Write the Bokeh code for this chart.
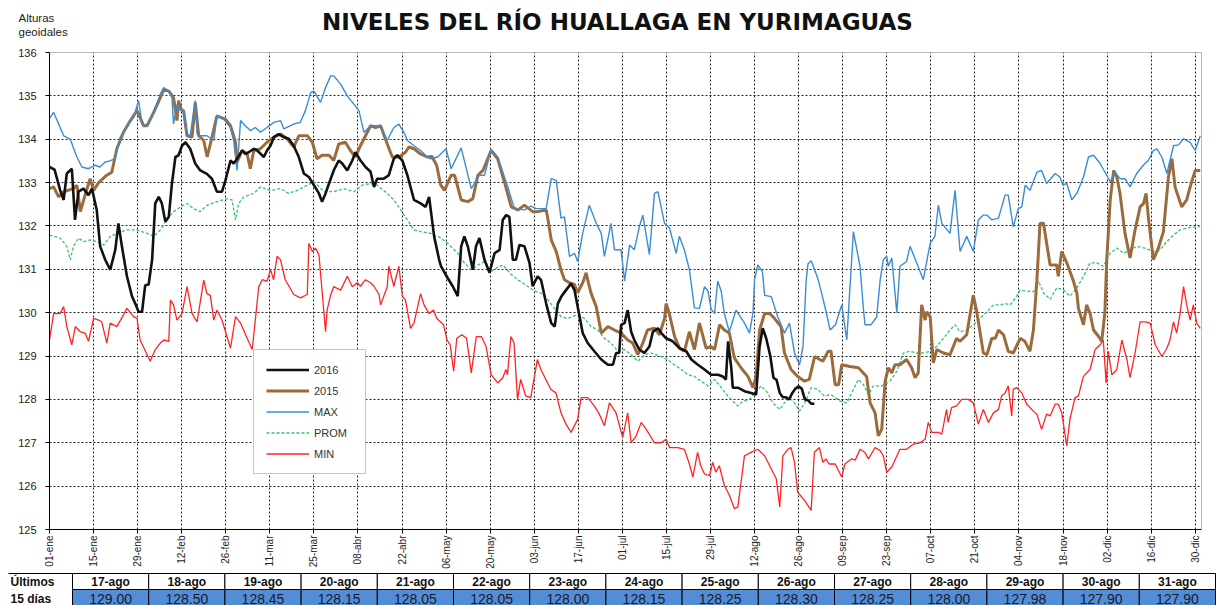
import math
from bokeh.plotting import figure
from bokeh.models import Range1d, FixedTicker, Legend, LegendItem
from bokeh.embed import file_html
from bokeh.resources import INLINE
from bokeh.core.properties import value

# ---------------- data (day of year, 01-ene = 0) ----------------
tick_days = [0, 14, 28, 42, 56, 70, 84, 98, 112, 126, 140, 154, 168, 182, 196,
             210, 224, 238, 252, 266, 280, 294, 308, 322, 336, 350, 364]
tick_labels = ["01-ene", "15-ene", "29-ene", "12-feb", "26-feb", "11-mar", "25-mar",
               "08-abr", "22-abr", "06-may", "20-may", "03-jun", "17-jun", "01-jul",
               "15-jul", "29-jul", "12-ago", "26-ago", "09-sep", "23-sep", "07-oct",
               "21-oct", "04-nov", "18-nov", "02-dic", "16-dic", "30-dic"]
y_ticks = [125, 126, 127, 128, 129, 130, 131, 132, 133, 134, 135, 136]

y2016_days = [0, 1.6, 3.4, 4.5, 5.5, 7.1, 8.1, 9.2, 10.8, 12.4, 13.5, 15, 16.1, 17.7, 19.3, 20.9, 21.9, 23, 24.6, 26.2,
              27.3, 28.3, 29.4, 30.4, 31.5, 32.6, 33.6, 34.7, 35.7, 36.8, 37.9, 38.9, 40, 41, 42.1, 43.2, 44.7, 46.3,
              47.9, 50, 51.6, 53.2, 54.8, 55.9, 57.5, 58.5, 59.6, 61.2, 62.3, 63.3, 64.9, 66, 68.1, 69.1, 70.2, 71.3,
              72.8, 74.4, 76, 77.6, 79.2, 80.8, 82.4, 84, 85.6, 86.6, 87.7, 88.8, 90.3, 91.9, 93, 94.6, 96.2, 97.2,
              98.8, 100.4, 102, 103.1, 104.1, 106.2, 107.8, 109.4, 110.5, 112.1, 113.7, 115.8, 117.9, 119.5, 120.6,
              122.2, 123.8, 124.4, 126.5, 128.1, 129.7, 130.8, 131.8, 132.9, 134.5, 135.5, 136.6, 138.2, 139.8, 141.4,
              143, 144, 145.1, 146.1, 147.2, 148.2, 149.3, 150.9, 152.5, 153.5, 155.1, 156.2, 157.8, 159.4, 160.5,
              161.5, 162.6, 164.1, 165.7, 166.8, 167.8, 169.4, 171, 173.1, 175.3, 177.4, 179, 180, 181, 181.6, 182.7,
              183.7, 184.8, 185.8, 187.4, 189, 190.6, 191.7, 193.3, 194.4, 195.9, 198, 200.2, 202.3, 203.9, 206,
              208.1, 210.2, 212.4, 213.9, 214.9, 215.6, 216.6, 217.1, 218.7, 220.8, 222.9, 224.5, 225.6, 226.6, 227.7,
              229, 230, 231, 232, 233, 234, 235, 236, 237, 238, 239, 240, 241, 242, 243]
y2016_vals = [133.36, 133.3, 132.82, 132.6, 133.21, 133.32, 132.14, 132.79, 132.86, 132.71, 132.86, 132.37, 131.53,
              131.22, 130.99, 131.45, 132.06, 131.53, 130.84, 130.38, 130.2, 130.02, 130.02, 130.63, 130.65, 131.22,
              132.52, 132.67, 132.52, 132.1, 132.21, 132.98, 133.59, 133.63, 133.85, 133.93, 133.78, 133.44, 133.28,
              133.2, 133.09, 132.79, 132.79, 133.05, 133.51, 133.44, 133.55, 133.74, 133.66, 133.7, 133.78, 133.74,
              133.59, 133.74, 133.85, 134.05, 134.12, 134.05, 134.01, 133.85, 133.59, 133.21, 133.13, 132.94, 132.75,
              132.56, 132.75, 132.98, 133.28, 133.51, 133.44, 133.28, 133.51, 133.7, 133.51, 133.36, 133.25, 132.9,
              133.09, 133.09, 133.17, 133.55, 133.63, 133.51, 133.17, 132.6, 132.52, 132.44, 132.67, 131.76, 131.22,
              131.07, 130.8, 130.61, 130.38, 131.53, 131.76, 131.53, 130.99, 131.53, 131.72, 131.22, 130.92, 131.37,
              131.45, 132.14, 132.25, 132.21, 131.22, 131.22, 131.56, 131.53, 131.15, 130.61, 130.84, 130.75, 130.21,
              129.76, 129.68, 130.21, 130.37, 130.52, 130.67, 130.52, 130.14, 129.53, 129.3, 129.11, 128.92, 128.8,
              128.8, 129.07, 129.07, 129.72, 129.76, 130.06, 129.56, 129.37, 129.15, 129.07, 129.22, 129.56, 129.64,
              129.53, 129.41, 129.34, 129.18, 129.11, 128.92, 128.8, 128.69, 128.57, 128.57, 128.53, 128.46, 129.34,
              128.73, 128.27, 128.27, 128.19, 128.15, 128.11, 129.22, 129.64, 129.41,
              129.00, 128.50, 128.45, 128.15, 128.05, 128.05, 128.00, 128.15, 128.25, 128.30, 128.25, 128.00,
              127.98, 127.90, 127.90]

y2015_days = [0, 1.3, 2.9, 4.5, 7.6, 8.7, 9.8, 11.3, 12.9, 14, 15.6, 18.2, 19.8, 21.4, 23.5, 25.7, 27.8, 28.8, 29.9, 31,
              33.1, 35.2, 36.3, 37.9, 39.4, 40.5, 41, 42, 42.6, 43.7, 45.3, 46.3, 47.4, 49, 50.1, 51.1, 53.2, 55.9,
              57.5, 59.1, 59.6, 61.2, 62.8, 63.8, 64.9, 67, 69.1, 71.3, 73.4, 75.5, 77.6, 79.2, 81.9, 83.5, 85, 86.6,
              88.8, 90.3, 91.9, 94, 95.6, 97.2, 98.8, 100.4, 102, 103.6, 105.2, 107.3, 108.9, 111, 113.1, 114.2, 115.8,
              117.9, 120, 121.5, 123, 124.3, 125.5, 127.6, 128.7, 130.8, 132.9, 134.5, 136.1, 137.7, 140.3, 142.4,
              144.5, 146.7, 148.8, 150.9, 153.5, 155.1, 157.8, 158.3, 159.4, 161, 162.5, 163.6, 165.2, 166.8, 167.8,
              169.4, 170.5, 171, 172.1, 173.7, 175.3, 177.4, 179.5, 181.6, 183.7, 185.3, 186.9, 188.5, 190, 192.2,
              193.8, 195.4, 195.9, 196.9, 198.6, 200.2, 201.7, 203.3, 204.9, 206.5, 207.5, 208.6, 210.2, 211.3, 212.9,
              214.4, 216, 217.6, 219.7, 221.9, 223.5, 224.5, 225.6, 227.2, 228.8, 230.3, 232.4, 233.5, 235.6, 237.7,
              239.9, 241.4, 243.1, 245.7, 247.4, 248.3, 249.6, 250.7, 251.7, 254.3, 257, 259.6, 260.7, 262.3, 263.3,
              264.4, 265.5, 266.5, 267.6, 268.6, 270.2, 272.3, 273.9, 275, 276, 277.1, 278.2, 278.7, 279.8, 280.8,
              281.9, 284, 286.1, 288.2, 289.3, 291.4, 293.5, 294.5, 296.7, 297.8, 299.4, 300.5, 301.5, 303.1, 304.6,
              306.2, 308.4, 309.9, 311.5, 312.6, 313.7, 314.7, 315.8, 316.8, 317.9, 320, 320.5, 321.6, 323.2, 325.3,
              326.4, 326.9, 328.5, 329.5, 330.6, 331.7, 333.3, 334.3, 335.3, 335.9, 337, 338.1, 339.1, 340.1, 341.7,
              343.3, 344.9, 346.5, 347.6, 348.4, 349.1, 350.7, 352.3, 353.9, 355.5, 356.6, 357.6, 359.7, 361.3, 362.4,
              364, 365.6]
y2015_vals = [132.86, 132.9, 132.67, 132.79, 132.86, 132.94, 132.33, 132.71, 133.09, 132.82, 133.0, 133.17, 133.24,
              133.78, 134.16, 134.43, 134.66, 134.5, 134.31, 134.31, 134.62, 134.96, 135.15, 135.11, 134.96, 134.43,
              134.89, 134.66, 134.66, 134.08, 134.05, 134.85, 134.08, 133.97, 133.59, 133.89, 134.54, 134.46, 134.31,
              133.93, 133.47, 133.74, 133.66, 133.32, 133.74, 133.78, 133.93, 134.05, 134.12, 134.01, 133.82, 134.08,
              134.08, 133.93, 133.55, 133.63, 133.63, 133.51, 133.89, 133.93, 133.74, 133.59, 133.85, 134.08, 134.31,
              134.27, 134.31, 133.89, 133.59, 133.59, 133.7, 133.82, 133.78, 133.66, 133.59, 133.6, 133.4, 132.94,
              132.82, 133.17, 133.17, 132.6, 132.56, 132.63, 133.17, 133.28, 133.74, 133.55, 133.02, 132.44, 132.37,
              132.48, 132.33, 132.33, 132.37, 132.18, 131.68, 131.41, 130.99, 130.76, 130.69, 130.65, 130.46, 130.69,
              130.92, 130.75, 130.44, 130.14, 129.53, 129.68, 129.6, 129.53, 129.37, 129.3, 129.03, 129.3, 129.6,
              129.64, 129.49, 129.87, 130.21, 129.98, 129.45, 129.18, 129.11, 129.56, 129.15, 129.76, 129.49, 129.18,
              129.22, 129.15, 129.72, 129.6, 129.53, 128.95, 128.73, 128.53, 128.27, 128.53, 129.6, 129.98, 129.98,
              129.87, 129.68, 129.07, 128.69, 128.53, 128.42, 128.46, 128.99, 128.88, 129.11, 129.11, 128.34, 128.34,
              128.8, 128.76, 128.73, 128.53, 127.92, 127.69, 127.16, 127.31, 128.42, 128.73, 128.61, 128.8, 128.8,
              128.92, 128.73, 128.5, 128.61, 130.18, 129.83, 130.02, 129.91, 128.84, 129.15, 129.07, 129.03, 129.41,
              129.34, 129.49, 130.4, 130.06, 129.07, 129.03, 129.41, 129.41, 129.6, 129.49, 129.11, 129.07, 129.41,
              129.34, 129.11, 129.6, 130.75, 132.06, 132.06, 131.6, 131.1, 131.1, 130.84, 131.41, 131.15, 130.73,
              130.46, 130.1, 129.72, 130.18, 129.98, 129.6, 129.45, 129.34, 130.0, 131.22, 132.6, 133.28, 133.13,
              132.75, 131.83, 131.26, 131.91, 132.44, 132.52, 132.75, 132.21, 131.22, 131.49, 131.87, 133.13, 133.55,
              132.9, 132.44, 132.6, 132.9, 133.28, 133.28]

max_days = [0, 1.3, 2.9, 4.5, 6.6, 8.7, 10.3, 12.4, 14.5, 16, 17.6, 19.2, 20.8, 22.5, 24.6, 26.7, 28.3, 29.4, 30.9, 33,
            35.2, 36.3, 37.9, 38.9, 39.4, 40.5, 41.6, 42.6, 43.4, 44.7, 46.3, 46.9, 48, 50, 52.2, 53.2, 55.4, 57.5,
            58.5, 59.6, 60.7, 62.2, 63.8, 65.4, 67, 69.1, 71.3, 73.4, 74.4, 77.6, 79.7, 81.3, 83, 84, 86.1, 87.7, 89.3,
            90.3, 92.5, 94.6, 96.7, 98.3, 99.9, 101.5, 103.1, 105.2, 107.3, 109.4, 111, 112.6, 113.7, 115.8, 117.9,
            120, 121.2, 123.3, 126, 127.6, 130.8, 134, 136.6, 138.2, 140.3, 142.4, 145.6, 147.7, 150.9, 153, 154.6,
            157.8, 159.4, 161, 162.5, 163.6, 165.2, 166.8, 167.8, 169.4, 171.5, 173.7, 175.3, 176.3, 178.4, 179.5,
            181.6, 182.7, 184.3, 185.8, 187.4, 188.5, 190.6, 192.2, 193.3, 195.4, 197, 199.1, 200.1, 201.7, 203.3,
            204.9, 206.5, 208.1, 209.2, 210.2, 211.3, 212.3, 213.4, 214.4, 216, 218.1, 220.8, 222.4, 223.5, 224, 225,
            226.5, 227.2, 229.3, 231.4, 233.5, 235.1, 236.7, 238.3, 239.4, 240.4, 241, 242, 244.1, 245.2, 246.8, 248,
            249.7, 251.7, 253.3, 255.4, 257.5, 258.6, 259.1, 261, 262.8, 263.9, 264.9, 266, 266.5, 267.6, 269.2,
            270.2, 272.3, 273.4, 275.5, 277.6, 279.8, 281.3, 282.4, 283.5, 286.1, 287.7, 289.3, 291.4, 293.5, 295.1,
            296.7, 297.8, 299.4, 301.5, 303.6, 304.6, 306.2, 307.8, 308.9, 310, 311.5, 313.7, 315.2, 316.8, 319.5,
            321, 322, 323.2, 324.8, 326.4, 328.5, 330.1, 331.7, 333.8, 337, 338.5, 340.1, 341.7, 343.3, 345.4, 347.5,
            349.1, 350.7, 351.8, 353.4, 355, 357.1, 358.7, 360.3, 362.4, 364, 365.6]
max_vals = [134.48, 134.62, 134.35, 134.08, 134.0, 133.59, 133.36, 133.32, 133.4, 133.36, 133.47, 133.5, 133.55,
            134.05, 134.31, 134.5, 134.89, 134.35, 134.31, 134.58, 135.04, 135.19, 135.11, 134.96, 134.35, 134.8,
            134.66, 134.69, 134.12, 134.08, 134.89, 134.12, 134.08, 134.08, 133.97, 134.54, 134.46, 134.27, 133.97,
            133.28, 134.43, 134.31, 134.2, 134.27, 134.16, 134.27, 134.39, 134.43, 134.24, 134.35, 134.39, 134.66,
            135.08, 135.11, 134.85, 135.19, 135.46, 135.46, 135.27, 135.0, 134.81, 134.66, 134.16, 134.27, 134.31,
            134.31, 133.97, 134.27, 134.35, 134.16, 133.97, 133.85, 133.74, 133.59, 133.55, 133.59, 133.78, 133.32,
            133.8, 132.86, 133.17, 133.17, 133.76, 133.59, 132.9, 132.4, 132.37, 132.46, 132.4, 132.4, 133.09,
            133.05, 132.18, 132.21, 131.3, 131.37, 131.18, 131.83, 132.48, 132.06, 131.83, 131.3, 132.06, 131.45,
            131.45, 130.73, 131.56, 131.45, 131.98, 132.25, 131.34, 132.75, 132.79, 132.06, 131.95, 131.37, 131.76,
            131.45, 130.99, 130.11, 130.1, 130.6, 130.5, 130.08, 129.98, 130.73, 130.5, 129.98, 129.56, 130.06,
            129.76, 129.53, 130.0, 130.75, 131.1, 130.95, 130.4, 130.37, 129.9, 129.53, 129.76, 129.07, 128.8,
            129.22, 130.75, 131.13, 131.2, 130.79, 130.48, 130.0, 129.6, 129.72, 130.18, 129.37, 131.87, 131.07,
            130.08, 129.72, 129.72, 129.9, 130.75, 131.22, 131.3, 131.07, 131.26, 130.0, 131.07, 131.18, 131.53,
            131.15, 130.76, 131.6, 131.76, 132.48, 132.06, 131.83, 132.82, 131.41, 131.76, 131.41, 132.14, 132.25,
            132.25, 132.14, 132.18, 132.71, 132.71, 131.98, 132.4, 132.44, 132.94, 132.82, 133.24, 133.28, 132.98,
            133.21, 133.13, 132.94, 132.98, 132.6, 132.75, 133.13, 133.59, 133.63, 133.44, 133.02, 133.24, 133.09,
            133.09, 132.9, 133.21, 133.4, 133.51, 133.74, 133.78, 133.59, 133.21, 133.85, 133.87, 134.01, 133.93,
            133.74, 134.08]

prom_days = [0, 3.4, 5.5, 6.6, 7.6, 9.2, 10.8, 12.9, 15, 17.2, 19.3, 21.4, 24.6, 27.8, 31, 33.1, 35.2, 37.3, 39.4,
             41.6, 43.7, 45.8, 47.9, 50.1, 53.2, 56.4, 58, 59.1, 60.1, 61.7, 64.9, 67, 70.2, 73.4, 76, 78.7, 81.9, 84,
             87.2, 90.3, 93.5, 96.7, 99.4, 102, 104.1, 107.3, 109.4, 111.6, 113.7, 115.8, 117.9, 121.1, 124.4, 126.5,
             129.7, 131.8, 134, 136.1, 138.2, 140.3, 142.4, 144, 146.7, 148.8, 151.9, 154.1, 156.2, 158.3, 160.4,
             162.5, 164.6, 167.8, 169.9, 172.1, 174.2, 176.3, 178.4, 180.6, 182.7, 184.8, 186.9, 189, 191.1, 194.3,
             196.4, 198.5, 200.7, 202.8, 204.9, 207, 209.2, 211.3, 213.4, 215.5, 217.1, 218.7, 220.3, 222.4, 224.5,
             226.1, 228.2, 229.8, 232, 233.5, 235.1, 236.7, 238.3, 239.9, 242, 244.1, 246.2, 248.3, 251.2, 253.3,
             255.4, 257, 258.6, 260.2, 261.7, 264.4, 267, 269.2, 271.3, 273.4, 275.5, 277.6, 279.8, 281.9, 284, 286.1,
             287.7, 289.3, 291.4, 293.5, 295.6, 297.8, 299.9, 302, 303.6, 305.2, 306.8, 308.4, 310.5, 312.6, 314.2,
             315.8, 317.9, 320, 322.1, 324.2, 326.4, 328.5, 330.6, 332.7, 334.8, 337, 339.1, 341.2, 343.3, 345.4, 348,
             350.7, 352.8, 355, 357.1, 359.2, 361.3, 364, 365.6]
prom_vals = [131.79, 131.72, 131.53, 131.22, 131.53, 131.72, 131.64, 131.68, 131.64, 131.56, 131.76, 131.83, 131.91,
             131.91, 131.83, 131.76, 131.91, 132.14, 132.33, 132.44, 132.52, 132.4, 132.33, 132.48, 132.56, 132.63,
             132.6, 132.14, 132.52, 132.67, 132.75, 132.9, 132.82, 132.86, 132.75, 132.82, 132.94, 133.02, 132.79,
             132.79, 132.86, 132.79, 132.94, 132.98, 132.94, 132.75, 132.6, 132.37, 132.14, 131.91, 131.87, 131.83,
             131.72, 131.6, 131.37, 131.15, 130.99, 131.1, 131.18, 130.95, 131.05, 131.1, 130.88, 130.76, 130.61,
             130.5, 130.45, 130.3, 130.1, 129.91, 129.87, 129.95, 129.87, 129.68, 129.6, 129.41, 129.3, 129.11,
             129.15, 129.03, 128.88, 129.03, 129.07, 128.99, 128.92, 128.8, 128.69, 128.57, 128.53, 128.42, 128.31,
             128.46, 128.27, 128.08, 127.96, 127.85, 127.96, 128.0, 128.19, 128.31, 128.15, 127.92, 127.77, 127.92,
             128.04, 127.92, 127.73, 127.92, 128.27, 128.23, 128.08, 128.11, 127.96, 127.92, 128.23, 128.46, 128.34,
             128.11, 128.31, 128.31, 128.42, 128.65, 129.07, 129.11, 129.07, 129.07, 129.11, 129.22, 129.41, 129.6,
             129.72, 129.56, 129.6, 129.72, 129.87, 130.02, 130.18, 130.18, 130.21, 130.18, 130.33, 130.52, 130.5,
             130.48, 130.73, 130.46, 130.31, 130.57, 130.53, 130.38, 130.57, 130.84, 131.15, 131.15, 131.07, 131.37,
             131.49, 131.37, 131.45, 131.53, 131.49, 131.41, 131.45, 131.64, 131.79, 131.91, 131.95, 131.98, 131.98]

min_days = [0, 1.3, 3.4, 4.5, 5.5, 7.1, 8.2, 9.8, 11.3, 12.4, 14, 15.6, 16.6, 18.2, 19.3, 21.4, 23.5, 24.6, 26.7, 27.8,
            28.8, 31, 32, 33.6, 35.2, 36.3, 37.9, 38.4, 39.4, 40.5, 42.1, 43.7, 45.3, 46.9, 49, 50, 51.1, 52.2, 53.2,
            54.8, 57.5, 59.1, 60.7, 62.8, 64.4, 66.5, 67.6, 69.1, 70.2, 71.2, 72.3, 73.4, 74.9, 77.6, 79.7, 81.9,
            82.4, 83.5, 84.5, 85.6, 86.6, 87.7, 88.2, 89.3, 90.3, 92.5, 94.6, 96.2, 97.8, 98.8, 100.4, 102, 103.1,
            104.7, 105.2, 107.3, 107.8, 109.4, 111, 112.1, 113.1, 114.7, 115.8, 117.9, 119, 120.6, 122, 123, 125.2,
            126.3, 127.3, 128.4, 129.4, 131, 132.5, 134, 135.6, 137.2, 138.7, 140.3, 142.4, 144, 145, 145.5, 146.6,
            147.6, 148.7, 149.7, 151.3, 152.9, 155, 156.1, 157.7, 159.3, 160.9, 162.5, 164.1, 165.7, 167.8, 168.9,
            171, 173.1, 174.7, 176.3, 177.9, 180, 182.1, 183.7, 184.8, 186.4, 188, 189.6, 192.2, 194.3, 195.9, 197,
            199.6, 201.7, 203.3, 204.4, 205.9, 206.9, 208.1, 209.7, 210.7, 211.7, 212.8, 214.4, 216, 217.6, 218.7,
            220.8, 222.9, 225, 227.2, 229.3, 230.9, 232, 233, 234.6, 235.6, 236.7, 237.7, 239.9, 242, 243, 244.6,
            245.7, 246.7, 247.7, 249.6, 251.7, 252.7, 254.9, 256, 257.5, 259, 260.2, 262.3, 263.9, 264.9, 266, 267.6,
            270.2, 272.3, 274.5, 276.6, 278.2, 279.2, 280.3, 282.4, 283.5, 285, 285.5, 286.6, 288.2, 289.8, 291.9,
            293.5, 295.1, 296.7, 298.3, 299.9, 301.5, 302.5, 303.6, 304.6, 305.7, 306.2, 307.3, 308.9, 310.5, 312.6,
            313.7, 315.2, 316.8, 317.9, 319.5, 320.5, 321.6, 323.2, 324.2, 325.8, 326.9, 328.5, 330.6, 332.2, 333.8,
            334.8, 335.7, 336.4, 337.5, 339.1, 340.7, 342.3, 343.3, 344.9, 346.5, 348.1, 349.7, 351.3, 353.4, 355,
            356, 357.1, 358.1, 359.2, 360.3, 361.3, 362.4, 363.4, 364.5, 365.6]
min_vals = [129.37, 129.98, 129.98, 130.14, 129.68, 129.26, 129.68, 129.56, 129.53, 129.34, 129.87, 129.83, 129.79,
            129.3, 129.76, 129.68, 129.95, 130.1, 129.91, 129.87, 129.37, 129.03, 128.88, 129.15, 129.3, 129.37,
            129.34, 130.29, 130.18, 129.83, 129.98, 130.6, 129.98, 129.79, 130.75, 130.44, 130.4, 129.83, 130.06,
            129.83, 129.18, 129.91, 129.76, 129.41, 129.15, 130.6, 130.76, 130.72, 131.0, 130.76, 131.3, 131.22,
            130.76, 130.42, 130.34, 130.42, 131.6, 131.41, 131.49, 131.34, 130.5, 129.56, 130.06, 130.4, 130.6,
            130.52, 130.84, 130.6, 130.69, 130.61, 130.76, 130.69, 130.61, 130.42, 130.18, 130.6, 131.07, 130.61,
            131.07, 130.38, 130.29, 129.64, 129.76, 130.44, 130.18, 129.98, 130.06, 129.87, 129.72, 129.37, 129.26,
            128.65, 129.41, 129.49, 129.41, 128.61, 129.45, 129.45, 129.22, 128.57, 128.38, 128.5, 128.69, 128.57,
            129.45, 129.3, 128.0, 128.46, 128.08, 128.04, 128.92, 128.69, 128.46, 128.23, 128.15, 127.69, 127.43,
            127.24, 127.54, 128.04, 128.04, 127.85, 127.66, 127.39, 127.92, 127.69, 127.12, 127.69, 127.0, 127.16,
            127.47, 127.31, 127.0, 127.0, 127.08, 126.89, 126.89, 126.85, 126.51, 126.21, 126.78, 126.47, 126.28,
            126.24, 126.55, 126.32, 126.47, 126.02, 125.79, 125.48, 125.52, 126.7, 126.78, 126.85, 126.7, 126.4,
            126.17, 125.52, 126.7, 126.85, 126.89, 126.55, 125.86, 125.67, 125.44, 126.78, 126.89, 126.55, 126.63,
            126.51, 126.51, 126.21, 126.51, 126.63, 126.6, 126.85, 126.78, 126.63, 126.89, 126.82, 126.7, 126.32,
            126.44, 126.85, 126.85, 126.97, 127.0, 127.08, 127.47, 127.24, 127.24, 127.2, 127.77, 127.47, 127.81,
            127.85, 128.0, 128.0, 127.92, 127.43, 127.77, 127.47, 127.69, 127.77, 128.08, 128.15, 128.31, 127.62,
            128.23, 128.27, 128.15, 127.89, 127.73, 127.66, 127.31, 127.66, 127.62, 127.89, 127.89, 127.69, 126.93,
            127.54, 128.04, 128.08, 128.53, 128.69, 129.15, 129.26, 129.37, 128.38, 129.11, 128.57, 128.69, 129.37,
            128.92, 128.5, 129.07, 129.79, 129.79, 129.76, 129.26, 128.99, 129.18, 129.37, 129.79, 129.53, 129.98,
            130.6, 130.18, 129.83, 130.18, 129.76, 129.64]

table_dates = ["17-ago", "18-ago", "19-ago", "20-ago", "21-ago", "22-ago", "23-ago", "24-ago",
               "25-ago", "26-ago", "27-ago", "28-ago", "29-ago", "30-ago", "31-ago"]
table_values = [129.00, 128.50, 128.45, 128.15, 128.05, 128.05, 128.00, 128.15,
                128.25, 128.30, 128.25, 128.00, 127.98, 127.90, 127.90]

title_text = "NIVELES DEL RÍO HUALLAGA EN YURIMAGUAS"
ylabel_lines = ["Alturas", "geoidales"]

# ---------------- styling ----------------
FONT = "Liberation Sans"
C2016, C2015, CMAX, CPROM, CMIN = "#111111", "#9C6B3C", "#3A8CD4", "#33C46A", "#FF2424"
W = 1216


def bare(fig):
    fig.grid.visible = False
    fig.outline_line_color = None
    fig.background_fill_color = "white"
    fig.border_fill_color = "white"


# ---------------- header (title + unit label) ----------------
h = figure(width=W, height=44, output_backend="svg", toolbar_location=None,
           x_range=Range1d(0, W), y_range=Range1d(44, 0),
           x_axis_location=None, y_axis_location=None, min_border=0)
bare(h)
h.text(x=[617], y=[21], text=[title_text], text_align="center", text_baseline="middle",
       text_font=value("DejaVu Sans"), text_font_style="bold", text_font_size="23px", text_color="#111111")
h.text(x=[18, 18], y=[17, 31], text=ylabel_lines, text_align="left", text_baseline="middle",
       text_font=value(FONT), text_font_size="11.5px", text_color="#222222")

# ---------------- chart ----------------
p = figure(width=W, height=527, output_backend="svg", toolbar_location=None,
           x_range=Range1d(0, 366), y_range=Range1d(125, 136),
           min_border_left=49, min_border_right=15, min_border_top=8, min_border_bottom=41)
p.background_fill_color = "white"
p.border_fill_color = "white"
p.outline_line_color = "#BBBBBB"

p.xaxis.ticker = FixedTicker(ticks=tick_days)
p.xaxis.major_label_overrides = {d: l for d, l in zip(tick_days, tick_labels)}
p.xaxis.major_label_orientation = math.pi / 2
p.xaxis.major_label_text_font_size = "10px"
p.xaxis.major_label_standoff = 2
p.yaxis.ticker = FixedTicker(ticks=y_ticks)
p.yaxis.major_label_text_font_size = "11px"
p.yaxis.major_label_standoff = 9
for ax in (p.xaxis, p.yaxis):
    ax.major_label_text_font = FONT
    ax.major_label_text_color = "#222222"
    ax.axis_line_color = "black"
    ax.major_tick_line_color = "black"
    ax.major_tick_out = 4
    ax.major_tick_in = 0
    ax.minor_tick_line_color = None

p.xgrid.ticker = FixedTicker(ticks=tick_days)
p.ygrid.ticker = FixedTicker(ticks=y_ticks)
for g in (p.xgrid, p.ygrid):
    g.grid_line_color = "black"
    g.grid_line_dash = "2 2"
    g.grid_line_width = 1
    g.grid_line_alpha = 0.85

r_min = p.line(min_days, min_vals, color=CMIN, line_width=1.3)
r_prom = p.line(prom_days, prom_vals, color=CPROM, line_width=1.3, line_dash="3 2")
r_2015 = p.line(y2015_days, y2015_vals, color=C2015, line_width=3)
r_max = p.line(max_days, max_vals, color=CMAX, line_width=1.4)
r_2016 = p.line(y2016_days, y2016_vals, color=C2016, line_width=2.6)

legend = Legend(items=[LegendItem(label="2016", renderers=[r_2016]),
                       LegendItem(label="2015", renderers=[r_2015]),
                       LegendItem(label="MAX", renderers=[r_max]),
                       LegendItem(label="PROM", renderers=[r_prom]),
                       LegendItem(label="MIN", renderers=[r_min])],
                location=(204, 55), orientation="vertical")
legend.border_line_color = "#8C8C8C"
legend.border_line_width = 1
legend.background_fill_color = "white"
legend.background_fill_alpha = 1
legend.label_text_font = FONT
legend.label_text_font_size = "11px"
legend.label_text_color = "#333333"
legend.glyph_width = 43
legend.glyph_height = 15
legend.label_height = 15
legend.label_width = 39
legend.spacing = 6
legend.padding = 12
legend.label_standoff = 5
legend.margin = 0
p.add_layout(legend)

# ---------------- table ----------------
t = figure(width=W, height=34, output_backend="svg", toolbar_location=None,
           x_range=Range1d(0, W), y_range=Range1d(605, 571),
           x_axis_location=None, y_axis_location=None, min_border=0)
bare(t)

cell_w = 76.2
lefts = [72 + i * cell_w for i in range(len(table_dates))]
rights = [l + cell_w for l in lefts]
centers = [l + cell_w / 2 for l in lefts]
t.quad(left=lefts, right=rights, top=573, bottom=589, fill_color="white", line_color="black", line_width=1)
t.quad(left=lefts, right=rights, top=589, bottom=607, fill_color="#538DD5", line_color="black", line_width=1)
t.segment(x0=[8], y0=[573], x1=[72], y1=[573], line_color="black", line_width=1)
t.text(x=centers, y=[581.5] * len(centers), text=table_dates, text_align="center", text_baseline="middle",
       text_font=value(FONT), text_font_style="bold", text_font_size="12px", text_color="#111111")
t.text(x=centers, y=[598] * len(centers), text=["%.2f" % v for v in table_values], text_align="center",
       text_baseline="middle", text_font=value(FONT), text_font_size="14px", text_color="#1A1A2E")
t.text(x=[10, 10], y=[581.5, 598], text=["Últimos", "15 días"], text_align="left", text_baseline="middle",
       text_font=value(FONT), text_font_style="bold", text_font_size="12px", text_color="#111111")

# three independent roots, stacked on the page (no frame alignment between them)
open("out.html", "w").write(file_html([h, p, t], INLINE))
